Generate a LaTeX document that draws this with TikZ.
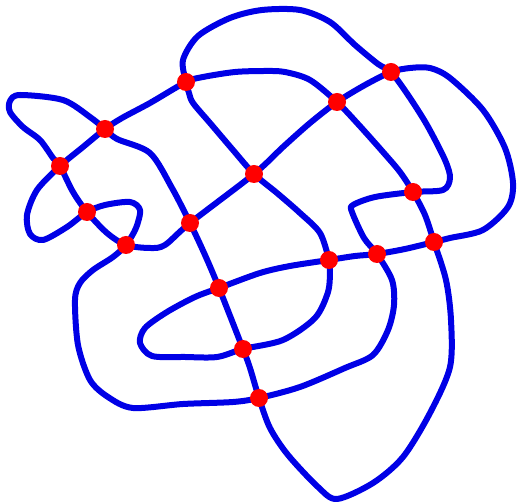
\documentclass[tikz,border=0pt]{standalone}
\definecolor{knotblue}{RGB}{0,0,230}
\definecolor{dotred}{RGB}{255,0,0}
\tikzset{
  knot/.style={draw=knotblue, line width=6pt, line join=round, line cap=round},
  crossdot/.style={fill=dotred}
}
\begin{document}
\begin{tikzpicture}[x=1pt,y=-1pt]
\useasboundingbox (0,0) rectangle (517,502);
\coordinate (A) at (186,82);
\coordinate (B) at (391,72);
\coordinate (C) at (337,102);
\coordinate (D) at (105,129);
\coordinate (E) at (60,166);
\coordinate (F) at (254,174);
\coordinate (G) at (413,192);
\coordinate (H) at (87,212);
\coordinate (I) at (190,223);
\coordinate (J) at (126,245);
\coordinate (K) at (434,242);
\coordinate (L) at (377,254);
\coordinate (M) at (329,260);
\coordinate (N) at (219,288);
\coordinate (O) at (243,349);
\coordinate (P) at (259,398);
\draw[knot] plot[smooth cycle, tension=0.5] coordinates {
 (A) (183,60) (198,36) (230,18) (262,10) (300,10) (330,22) (355,45) (378,64)
 (B) (408,95) (427,125) (445,160) (450,178) (443,190)
 (G) (375,197) (353,205) (352,212) (364,238)
 (L) (392,280) (394,305) (388,330) (373,355) (345,368) (300,387)
 (P) (233,402) (183,404) (133,408) (108,397) (90,380) (78,345) (75,300) (80,283) (93,270) (113,257)
 (J) (136,228) (140,210) (130,202) (105,205)
 (H) (67,227) (43,240) (30,234) (27,215) (37,190)
 (E) (83,147)
 (D) (122,118) (150,103)
 (A) (203,77) (235,72) (265,71) (285,72) (310,80)
 (C) (358,124) (383,152) (400,172)
 (G) (425,215)
 (K) (446,280) (451,320) (450,367) (430,413) (403,457) (373,483) (337,499) (318,487) (288,455) (270,428)
 (P) (250,368)
 (O) (N) (205,255)
 (I) (172,188) (150,153) (117,139)
 (D) (90,117) (63,100) (20,95) (10,101) (10,112) (23,127) (40,140) (53,158)
 (E) (73,192)
 (H) (107,233)
 (J) (150,248) (165,245)
 (I) (F) (283,147) (310,123)
 (C) (365,85)
 (B) (410,68) (430,68) (450,78) (483,110) (505,148) (513,183) (508,207) (483,230) (450,238)
 (K) (405,249)
 (L) (355,256)
 (M) (290,266) (260,273)
 (N) (195,297) (167,312) (145,328) (140,343) (152,356) (185,357) (217,357)
 (O) (283,340) (315,318) (328,292) (330,270)
 (M) (320,233) (300,213) (277,193)
 (F) (233,150) (210,123) (193,103) (189,93)
};
\foreach \p in {A,B,C,D,E,F,G,H,I,J,K,L,M,N,O,P}
  \fill[crossdot] (\p) circle (9pt);
\end{tikzpicture}
\end{document}
